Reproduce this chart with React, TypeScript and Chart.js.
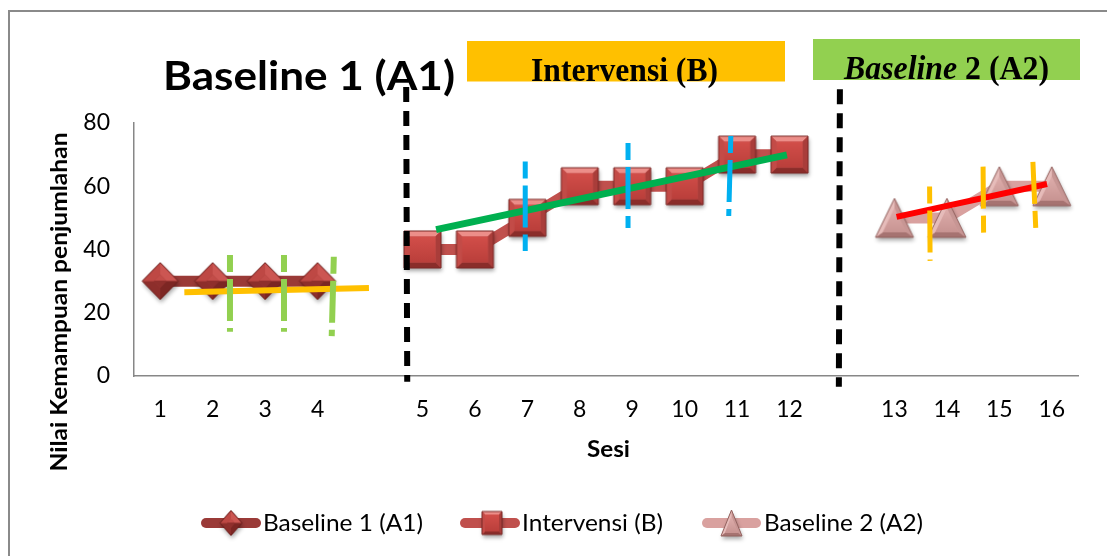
import React, { useEffect, useRef } from 'react';
import { Chart, registerables } from 'chart.js';

Chart.register(...registerables);

// ---- data ----
const xTickLabels = ['1', '2', '3', '4', '', '5', '6', '7', '8', '9', '10', '11', '12', '', '13', '14', '15', '16'];
const seriesNames = ['Baseline 1 (A1)', 'Intervensi (B)', 'Baseline 2 (A2)'];

const baseline1X = [0, 1, 2, 3];
const baseline1Values = [30, 30, 30, 30];
const interventionX = [5, 6, 7, 8, 9, 10, 11, 12];
const interventionValues = [40, 40, 50, 60, 60, 60, 70, 70];
const baseline2X = [14, 15, 16, 17];
const baseline2Values = [50, 50, 60, 60];

// trend lines [x1, y1, x2, y2]
const trendA1 = [0.46, 26.5, 3.98, 27.8];
const trendB = [5.26, 46.3, 11.95, 69.9];
const trendA2 = [14.04, 50.3, 16.91, 60.7];

// phase dividers & stability guides [xTop, yTop, xBottom, yBottom]
const phaseDividers = [
  [4.69, 91.4, 4.71, -1.8],
  [12.96, 90.7, 12.94, -3.4],
];
const greenGuides = [
  [1.33, 38.3, 1.33, 14.0],
  [2.36, 38.3, 2.36, 14.0],
  [3.31, 37.7, 3.27, 12.6],
];
const blueGuides = [
  [6.96, 67.8, 6.96, 39.5],
  [8.92, 73.7, 8.92, 46.8],
  [10.88, 75.9, 10.84, 50.6],
];
const orangeGuides = [
  [14.67, 59.9, 14.68, 36.4],
  [15.69, 66.2, 15.70, 45.3],
  [16.64, 67.7, 16.70, 44.6],
];

const COL_A1 = '#9A3A37';
const COL_B = '#C0504D';
const COL_A2 = '#D9A19F';

type P = [number, number];

function poly(ctx: CanvasRenderingContext2D, pts: P[]) {
  ctx.beginPath();
  ctx.moveTo(pts[0][0], pts[0][1]);
  for (let i = 1; i < pts.length; i++) ctx.lineTo(pts[i][0], pts[i][1]);
  ctx.closePath();
}

interface Pal {
  base: string;
  facets: string[];
  innerTop: string;
  innerBottom: string;
  hard?: boolean;
  stroke: string;
}

function makeMarker(w: number, h: number, kind: 'diamond' | 'square' | 'triangle', pal: Pal): HTMLCanvasElement {
  const pad = 8;
  const cw = Math.ceil(w + pad * 2);
  const ch = Math.ceil(h + pad * 2);
  const c = document.createElement('canvas');
  c.width = cw;
  c.height = ch;
  const ctx = c.getContext('2d')!;
  const cx = cw / 2;
  const cy = ch / 2;
  let outer: P[];
  let inner: P[];
  if (kind === 'diamond') {
    outer = [[cx, cy - h / 2], [cx + w / 2, cy], [cx, cy + h / 2], [cx - w / 2, cy]];
    const k = 0.35;
    inner = outer.map(([x, y]) => [cx + (x - cx) * k, cy + (y - cy) * k] as P);
  } else if (kind === 'square') {
    outer = [[cx - w / 2, cy - h / 2], [cx + w / 2, cy - h / 2], [cx + w / 2, cy + h / 2], [cx - w / 2, cy + h / 2]];
    const b = Math.min(w, h) * 0.15;
    inner = [[cx - w / 2 + b, cy - h / 2 + b], [cx + w / 2 - b, cy - h / 2 + b], [cx + w / 2 - b, cy + h / 2 - b], [cx - w / 2 + b, cy + h / 2 - b]];
  } else {
    outer = [[cx, cy - h / 2], [cx + w / 2, cy + h / 2], [cx - w / 2, cy + h / 2]];
    const gx = cx;
    const gy = (cy - h / 2 + 2 * (cy + h / 2)) / 3;
    const k = 0.62;
    inner = outer.map(([x, y]) => [gx + (x - gx) * k, gy + (y - gy) * k] as P);
  }
  ctx.save();
  ctx.shadowColor = 'rgba(0,0,0,0.35)';
  ctx.shadowBlur = 4;
  ctx.shadowOffsetX = 1;
  ctx.shadowOffsetY = 3;
  poly(ctx, outer);
  ctx.fillStyle = pal.base;
  ctx.fill();
  ctx.restore();
  for (let i = 0; i < outer.length; i++) {
    const j = (i + 1) % outer.length;
    poly(ctx, [outer[i], outer[j], inner[j], inner[i]]);
    ctx.fillStyle = pal.facets[i];
    ctx.fill();
  }
  const top = Math.min(...inner.map((p) => p[1]));
  const bot = Math.max(...inner.map((p) => p[1]));
  const g = ctx.createLinearGradient(0, top, 0, bot);
  if (pal.hard) {
    g.addColorStop(0, pal.innerTop);
    g.addColorStop(0.5, pal.innerTop);
    g.addColorStop(0.5, pal.innerBottom);
    g.addColorStop(1, pal.innerBottom);
  } else {
    g.addColorStop(0, pal.innerTop);
    g.addColorStop(1, pal.innerBottom);
  }
  poly(ctx, inner);
  ctx.fillStyle = g;
  ctx.fill();
  poly(ctx, outer);
  ctx.strokeStyle = pal.stroke;
  ctx.lineWidth = 1;
  ctx.stroke();
  return c;
}

const diamondPal: Pal = {
  base: '#A23C39',
  facets: ['#CC5652', '#7C2623', '#8D2E2B', '#BE4844'],
  innerTop: '#C24C48',
  innerBottom: '#8F2F2C',
  hard: true,
  stroke: '#6B1F1D',
};
const squarePal: Pal = {
  base: '#C0504D',
  facets: ['#EC8E89', '#A93D3A', '#8A2D2A', '#C34B47'],
  innerTop: '#D24E49',
  innerBottom: '#BA3F3B',
  stroke: '#7A2826',
};
const trianglePal: Pal = {
  base: '#D9A19F',
  facets: ['#C79694', '#A67371', '#E6BCBA'],
  innerTop: '#DEAEAC',
  innerBottom: '#C89492',
  stroke: '#93625F',
};

function fitText(ctx: CanvasRenderingContext2D, text: string, font: string, x: number, y: number, width: number) {
  ctx.save();
  ctx.font = font;
  ctx.fillStyle = '#000';
  ctx.textAlign = 'left';
  ctx.textBaseline = 'alphabetic';
  const w = ctx.measureText(text).width;
  ctx.translate(x, y);
  ctx.scale(width / w, 1);
  ctx.fillText(text, 0, 0);
  ctx.restore();
}

const pts = (xs: number[], ys: number[]) => xs.map((x, i) => ({ x, y: ys[i] }));
const seg = (g: number[]) => [
  { x: g[0], y: g[1] },
  { x: g[2], y: g[3] },
];

export default function App() {
  const ref = useRef<HTMLCanvasElement>(null);

  useEffect(() => {
    const canvas = ref.current!;
    const mDiamond = makeMarker(36, 37, 'diamond', diamondPal);
    const mSquare = makeMarker(37, 37, 'square', squarePal);
    const mTriangle = makeMarker(38, 39, 'triangle', trianglePal);
    const lDiamond = makeMarker(22, 25, 'diamond', diamondPal);
    const lSquare = makeMarker(20, 23, 'square', squarePal);
    const lTriangle = makeMarker(21, 26, 'triangle', trianglePal);

    const guideDash = [17, 7, 42, 7];
    const datasets: any[] = [];
    phaseDividers.forEach((g) =>
      datasets.push({ data: seg(g), borderColor: '#000', borderWidth: 6, borderDash: [15, 9], pointRadius: 0, clip: false, borderCapStyle: 'butt' })
    );
    orangeGuides.forEach((g, i) =>
      datasets.push({ data: seg(g), borderColor: '#FFC000', borderWidth: 5, borderDash: guideDash, borderDashOffset: i === 0 ? 0 : 24, pointRadius: 0, clip: false })
    );
    blueGuides.forEach((g) =>
      datasets.push({ data: seg(g), borderColor: '#00B0F0', borderWidth: 5, borderDash: guideDash, pointRadius: 0, clip: false })
    );
    greenGuides.forEach((g) =>
      datasets.push({ data: seg(g), borderColor: '#92D050', borderWidth: 6, borderDash: guideDash, pointRadius: 0, clip: false })
    );
    datasets.push({ data: seg(trendA2), borderColor: '#FF0000', borderWidth: 6, pointRadius: 0, clip: false });
    datasets.push({ data: seg(trendB), borderColor: '#00B050', borderWidth: 7, pointRadius: 0, clip: false });
    datasets.push({ data: seg(trendA1), borderColor: '#FFC000', borderWidth: 6, pointRadius: 0, clip: false });
    datasets.push({
      label: seriesNames[0],
      data: pts(baseline1X, baseline1Values),
      borderColor: COL_A1,
      borderWidth: 11,
      pointStyle: mDiamond,
      pointRadius: 18,
      borderJoinStyle: 'round',
      clip: false,
    });
    datasets.push({
      label: seriesNames[1],
      data: pts(interventionX, interventionValues),
      borderColor: COL_B,
      borderWidth: 11,
      pointStyle: mSquare,
      pointRadius: 18,
      borderJoinStyle: 'round',
      clip: false,
    });
    datasets.push({
      label: seriesNames[2],
      data: pts(baseline2X, baseline2Values),
      borderColor: COL_A2,
      borderWidth: 11,
      pointStyle: mTriangle,
      pointRadius: 18,
      borderJoinStyle: 'round',
      clip: false,
    });

    const decor = {
      id: 'decor',
      beforeDraw(chart: any) {
        const ctx: CanvasRenderingContext2D = chart.ctx;
        ctx.save();
        ctx.fillStyle = '#fff';
        ctx.fillRect(0, 0, chart.width, chart.height);
        ctx.strokeStyle = '#8A8A8A';
        ctx.lineWidth = 2;
        ctx.beginPath();
        ctx.moveTo(9, 556);
        ctx.lineTo(9, 11);
        ctx.lineTo(1107, 11);
        ctx.stroke();
        ctx.restore();
      },
      beforeDatasetsDraw(chart: any) {
        const ctx: CanvasRenderingContext2D = chart.ctx;
        ctx.save();
        // phase header boxes
        ctx.fillStyle = '#FFC000';
        ctx.fillRect(467, 41, 318, 40.5);
        ctx.fillStyle = '#92D050';
        ctx.fillRect(813, 39, 267, 41);
        fitText(ctx, 'Baseline 1 (A1)', 'bold 40px Lato', 163, 90, 292);
        fitText(ctx, 'Intervensi (B)', 'bold 34px "Liberation Serif"', 531, 81, 187);
        // Baseline 2 (A2) mixed style
        const f1 = 'italic bold 34px "Liberation Serif"';
        const f2 = 'bold 34px "Liberation Serif"';
        ctx.font = f1;
        const w1 = ctx.measureText('Baseline').width;
        ctx.font = f2;
        const w2 = ctx.measureText(' 2 (A2)').width;
        const sx = 205 / (w1 + w2);
        ctx.save();
        ctx.translate(844, 79);
        ctx.scale(sx, 1);
        ctx.fillStyle = '#000';
        ctx.textBaseline = 'alphabetic';
        ctx.textAlign = 'left';
        ctx.font = f1;
        ctx.fillText('Baseline', 0, 0);
        ctx.font = f2;
        ctx.fillText(' 2 (A2)', w1, 0);
        ctx.restore();
        // axis titles
        ctx.save();
        ctx.font = 'bold 23px Lato';
        const yt = 'Nilai Kemampuan penjumlahan';
        const wy = ctx.measureText(yt).width;
        ctx.translate(67, 302);
        ctx.rotate(-Math.PI / 2);
        ctx.scale(339 / wy, 1);
        ctx.fillStyle = '#000';
        ctx.textAlign = 'center';
        ctx.textBaseline = 'alphabetic';
        ctx.fillText(yt, 0, 0);
        ctx.restore();
        fitText(ctx, 'Sesi', 'bold 22px Lato', 587, 457, 43);
        ctx.restore();
      },
      afterDraw(chart: any) {
        const ctx: CanvasRenderingContext2D = chart.ctx;
        const items = [
          { x1: 201, x2: 261, mx: 231, tx: 263, tw: 160, color: COL_A1, marker: lDiamond },
          { x1: 460, x2: 520, mx: 492, tx: 522, tw: 141, color: COL_B, marker: lSquare },
          { x1: 702, x2: 761, mx: 731.5, tx: 764, tw: 159, color: COL_A2, marker: lTriangle },
        ];
        const ly = 523;
        items.forEach((it, i) => {
          ctx.save();
          ctx.strokeStyle = it.color;
          ctx.lineWidth = 10;
          ctx.lineCap = 'round';
          ctx.beginPath();
          ctx.moveTo(it.x1 + 5, ly);
          ctx.lineTo(it.x2 - 5, ly);
          ctx.stroke();
          ctx.drawImage(it.marker, it.mx - it.marker.width / 2, ly - it.marker.height / 2);
          ctx.restore();
          fitText(ctx, seriesNames[i], '23px Lato', it.tx, 531, it.tw);
        });
      },
    };

    const chart = new Chart(canvas, {
      type: 'line',
      data: { datasets },
      options: {
        responsive: false,
        animation: false,
        events: [],
        layout: { padding: { top: 123, left: 0, right: 24, bottom: 0 } },
        plugins: { legend: { display: false }, tooltip: { enabled: false }, title: { display: false } },
        scales: {
          x: {
            type: 'linear',
            min: -0.5,
            max: 17.5,
            afterBuildTicks: (s: any) => {
              s.ticks = xTickLabels.map((_, i) => ({ value: i }));
            },
            afterFit: (s: any) => {
              s.height = 180;
            },
            grid: { display: false, drawTicks: false },
            border: { display: true, color: '#878787', width: 1.5 },
            ticks: {
              autoSkip: false,
              maxRotation: 0,
              padding: 20,
              color: '#000',
              font: { family: 'Lato', size: 23 },
              callback: (v: any) => xTickLabels[Math.round(Number(v))] ?? '',
            },
          },
          y: {
            type: 'linear',
            min: 0,
            max: 80,
            afterFit: (s: any) => {
              s.width = 134;
            },
            grid: { display: false, drawTicks: false },
            border: { display: true, color: '#878787', width: 1.5 },
            ticks: { stepSize: 20, padding: 24, color: '#000', font: { family: 'Lato', size: 23 } },
          },
        },
      } as any,
      plugins: [decor],
    });
    return () => chart.destroy();
  }, []);

  return (
    <div style={{ position: 'fixed', left: 0, top: 0, width: 1107, height: 556, background: '#fff' }}>
      <canvas ref={ref} width={1107} height={556} style={{ display: 'block', width: 1107, height: 556 }} />
    </div>
  );
}
